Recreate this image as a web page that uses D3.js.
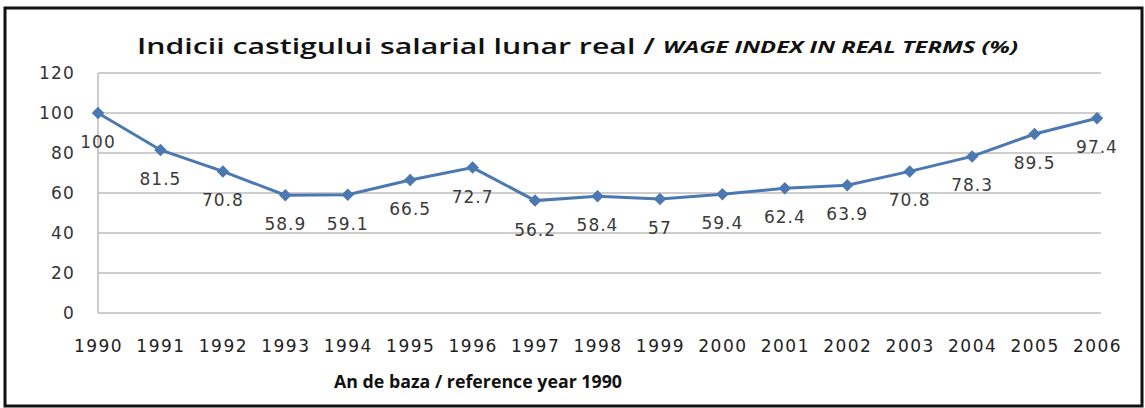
<!DOCTYPE html>
<html lang="en">
<head>
<meta charset="UTF-8">
<script src="https://d3js.org/d3.v7.min.js"></script>
<style>
  body { margin: 0; background: #fff; }
</style>
</head>
<body>
<div id="chart"></div>
<script>
// data
const years = ["1990","1991","1992","1993","1994","1995","1996","1997","1998","1999","2000","2001","2002","2003","2004","2005","2006"];
const wageIndex = [100, 81.5, 70.8, 58.9, 59.1, 66.5, 72.7, 56.2, 58.4, 57, 59.4, 62.4, 63.9, 70.8, 78.3, 89.5, 97.4];
const yTicks = [0, 20, 40, 60, 80, 100, 120];

const W = 1145, H = 408;
const margin = { top: 73, right: 44, bottom: 95, left: 98 };
const width = W - margin.left - margin.right,
      height = H - margin.top - margin.bottom;

const numFont = "'DejaVu Sans', Verdana, sans-serif";

const svg = d3.select('#chart').append('svg')
    .attr('width', W)
    .attr('height', H);

// outer frame
svg.append('rect')
    .attr('x', 5).attr('y', 8)
    .attr('width', W - 8).attr('height', H - 10)
    .attr('fill', '#fff')
    .attr('stroke', '#111')
    .attr('stroke-width', 3);

const g = svg.append('g')
    .attr('transform', 'translate(' + margin.left + ',' + margin.top + ')');

const x = d3.scalePoint().domain(years).range([0, 999]);
const y = d3.scaleLinear().domain([0, 120]).range([height, 0]);

// gridlines
g.append('g')
    .selectAll('line')
    .data(yTicks)
    .enter().append('line')
    .attr('x1', 0).attr('x2', width)
    .attr('y1', d => y(d)).attr('y2', d => y(d))
    .attr('stroke', '#bdbdbd')
    .attr('stroke-width', 1.5);

// y axis line
g.append('line')
    .attr('x1', 0).attr('x2', 0)
    .attr('y1', 0).attr('y2', height)
    .attr('stroke', '#bdbdbd')
    .attr('stroke-width', 1.5);

const yAxis = g.append('g')
    .call(d3.axisLeft(y).tickValues(yTicks).tickSize(0).tickPadding(23));
yAxis.select('.domain').remove();
yAxis.selectAll('text')
    .attr('font-family', numFont)
    .attr('font-size', 17)
    .attr('letter-spacing', 1.2)
    .attr('fill', '#333');

const xAxis = g.append('g')
    .attr('transform', 'translate(0,' + height + ')')
    .call(d3.axisBottom(x).tickSize(0).tickPadding(27));
xAxis.select('.domain').remove();
xAxis.selectAll('text')
    .attr('font-family', numFont)
    .attr('font-size', 17)
    .attr('letter-spacing', 1.5)
    .attr('fill', '#222');

const pts = years.map((yr, i) => ({ yr: yr, v: wageIndex[i] }));

// line
g.append('path')
    .datum(pts)
    .attr('fill', 'none')
    .attr('stroke', '#4b78b0')
    .attr('stroke-width', 3)
    .attr('d', d3.line().x(d => x(d.yr)).y(d => y(d.v)));

// diamond markers
g.selectAll('.mark')
    .data(pts)
    .enter().append('path')
    .attr('class', 'mark')
    .attr('transform', d => 'translate(' + x(d.yr) + ',' + y(d.v) + ')')
    .attr('d', d3.symbol().type(d3.symbolDiamond2).size(100))
    .attr('fill', '#4b78b0');

// value labels, under each point
g.selectAll('.label')
    .data(pts)
    .enter().append('text')
    .attr('class', 'label')
    .attr('x', d => x(d.yr))
    .attr('y', d => y(d.v) + 35)
    .attr('text-anchor', 'middle')
    .attr('font-family', numFont)
    .attr('font-size', 17)
    .attr('letter-spacing', 1)
    .attr('fill', '#3a3a3a')
    .text(d => d.v);

// title, two parts
svg.append('text')
    .attr('x', 137).attr('y', 54)
    .attr('font-family', "'Open Sans', sans-serif")
    .attr('font-size', 22)
    .attr('font-weight', 600)
    .attr('fill', '#111')
    .attr('textLength', 518)
    .attr('lengthAdjust', 'spacingAndGlyphs')
    .text('Indicii castigului salarial lunar real /');
svg.append('text')
    .attr('x', 663).attr('y', 53)
    .attr('font-family', "'Open Sans', sans-serif")
    .attr('font-size', 16)
    .attr('font-weight', 700)
    .attr('font-style', 'italic')
    .attr('fill', '#111')
    .attr('textLength', 355)
    .attr('lengthAdjust', 'spacingAndGlyphs')
    .text('WAGE INDEX IN REAL TERMS (%)');

// x axis title
svg.append('text')
    .attr('x', 334).attr('y', 388)
    .attr('font-family', "'Open Sans', sans-serif")
    .attr('font-size', 17)
    .attr('font-weight', 700)
    .attr('fill', '#111')
    .attr('textLength', 288)
    .attr('lengthAdjust', 'spacingAndGlyphs')
    .text('An  de baza / reference year 1990');
</script>
</body>
</html>
